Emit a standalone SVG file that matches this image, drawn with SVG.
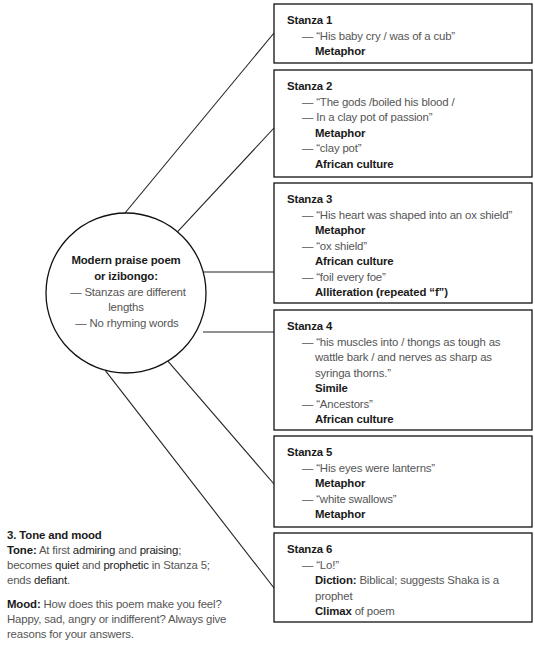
<svg xmlns="http://www.w3.org/2000/svg" width="535" height="649" viewBox="0 0 535 649">
<style>
text{font-family:"Liberation Sans",Arial,sans-serif;font-size:11.4px;fill:#555;letter-spacing:-0.17px}
.b{font-weight:bold;fill:#1a1a1a;letter-spacing:-0.12px}
.d{fill:#1a1a1a}
.box{fill:#fff;stroke:#111;stroke-width:1.3}
.ln{stroke:#222;stroke-width:1.1;fill:none}
.c{text-anchor:middle}
</style>
<rect width="535" height="649" fill="#fff"/>
<g id="connectors">
<line class="ln" x1="125" y1="213" x2="274" y2="33"/>
<line class="ln" x1="177.7" y1="231.7" x2="274" y2="128"/>
<line class="ln" x1="203" y1="272" x2="274" y2="272"/>
<line class="ln" x1="203" y1="332" x2="274" y2="332"/>
<line class="ln" x1="167.9" y1="361.1" x2="274" y2="484"/>
<line class="ln" x1="105.2" y1="370.3" x2="274" y2="588"/>
</g>
<g id="center">
<circle cx="126" cy="293" r="80" fill="#fff" stroke="#111" stroke-width="1.3"/>
<text class="b c" x="126" y="264">Modern praise poem</text>
<text class="b c" x="126" y="279.5">or izibongo:</text>
<text class="c" x="128" y="295.5">— Stanzas are different</text>
<text class="c" x="126" y="311">lengths</text>
<text class="c" x="127" y="327">— No rhyming words</text>
</g>
<g id="stanza1">
<rect class="box" x="274" y="4" width="258" height="59"/>
<text class="b" x="287" y="24">Stanza 1</text>
<text x="302" y="39.5">— “His baby cry / was of a cub”</text>
<text class="b" x="315" y="55">Metaphor</text>
</g>
<g id="stanza2">
<rect class="box" x="274" y="70" width="258" height="107"/>
<text class="b" x="287" y="90">Stanza 2</text>
<text x="302" y="105.5">— “The gods /boiled his blood /</text>
<text x="302" y="121">— In a clay pot of passion”</text>
<text class="b" x="315" y="136.5">Metaphor</text>
<text x="302" y="152">— “clay pot”</text>
<text class="b" x="315" y="167.5">African culture</text>
</g>
<g id="stanza3">
<rect class="box" x="274" y="183" width="258" height="120"/>
<text class="b" x="287" y="203">Stanza 3</text>
<text x="302" y="218.5">— “His heart was shaped into an ox shield”</text>
<text class="b" x="315" y="234">Metaphor</text>
<text x="302" y="249.5">— “ox shield”</text>
<text class="b" x="315" y="265">African culture</text>
<text x="302" y="280.5">— “foil every foe”</text>
<text class="b" x="315" y="296">Alliteration (repeated “f”)</text>
</g>
<g id="stanza4">
<rect class="box" x="274" y="310" width="258" height="120"/>
<text class="b" x="287" y="330">Stanza 4</text>
<text x="302" y="345.5">— “his muscles into / thongs as tough as</text>
<text x="315" y="361">wattle bark / and nerves as sharp as</text>
<text x="315" y="376.5">syringa thorns.”</text>
<text class="b" x="315" y="392">Simile</text>
<text x="302" y="407.5">— “Ancestors”</text>
<text class="b" x="315" y="423">African culture</text>
</g>
<g id="stanza5">
<rect class="box" x="274" y="436" width="258" height="91"/>
<text class="b" x="287" y="456">Stanza 5</text>
<text x="302" y="471.5">— “His eyes were lanterns”</text>
<text class="b" x="315" y="487">Metaphor</text>
<text x="302" y="502.5">— “white swallows”</text>
<text class="b" x="315" y="518">Metaphor</text>
</g>
<g id="stanza6">
<rect class="box" x="274" y="533" width="258" height="89"/>
<text class="b" x="287" y="553">Stanza 6</text>
<text x="302" y="568.5">— “Lo!”</text>
<text x="315" y="584"><tspan class="b">Diction:</tspan> Biblical; suggests Shaka is a</text>
<text x="315" y="599.5">prophet</text>
<text x="315" y="615"><tspan class="b">Climax</tspan> of poem</text>
</g>
<g id="tone-mood">
<text class="b" x="7" y="539">3. Tone and mood</text>
<text x="7" y="554"><tspan class="b">Tone:</tspan> At first <tspan class="d">admiring</tspan> and <tspan class="d">praising</tspan>;</text>
<text x="7" y="569">becomes <tspan class="d">quiet</tspan> and <tspan class="d">prophetic</tspan> in Stanza 5;</text>
<text x="7" y="584">ends <tspan class="d">defiant</tspan>.</text>
<text x="7" y="608"><tspan class="b">Mood:</tspan> How does this poem make you feel?</text>
<text x="7" y="623">Happy, sad, angry or indifferent? Always give</text>
<text x="7" y="638">reasons for your answers.</text>
</g>
</svg>
